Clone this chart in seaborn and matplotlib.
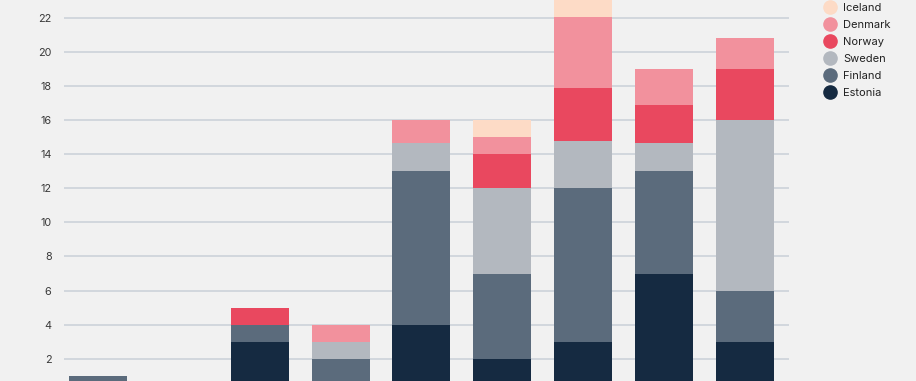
import matplotlib
matplotlib.use("Agg")
import matplotlib.pyplot as plt
from matplotlib.lines import Line2D
import seaborn as sns
import pandas as pd

categories = ["C1", "C2", "C3", "C4", "C5", "C6", "C7", "C8", "C9"]
estonia = [0, 0, 3, 0, 4, 2, 3, 7, 3]
finland = [1, 0, 1, 2, 9, 5, 9, 6, 3]
sweden  = [0, 0, 0, 1, 1.7, 5, 2.8, 1.7, 10]
norway  = [0, 0, 1, 0, 0, 2, 3.1, 2.2, 3]
denmark = [0, 0, 0, 1, 1.3, 1, 4.2, 2.1, 1.85]
iceland = [0, 0, 0, 0, 0, 1, 1.3, 0, 0]

series = {
    "Iceland": iceland,
    "Denmark": denmark,
    "Norway": norway,
    "Sweden": sweden,
    "Finland": finland,
    "Estonia": estonia,
}
colors = {
    "Iceland": "#fddbc6",
    "Denmark": "#f2919d",
    "Norway": "#e9485f",
    "Sweden": "#b3b8bf",
    "Finland": "#5b6b7c",
    "Estonia": "#152a41",
}
order = list(series.keys())

rows = []
for name, vals in series.items():
    for c, v in zip(categories, vals):
        rows.append({"category": c, "country": name, "value": v})
df = pd.DataFrame(rows)
df["category"] = pd.Categorical(df["category"], categories=categories, ordered=True)

sns.set_theme(style="white")
plt.rcParams["font.family"] = ["Inter", "DejaVu Sans"]
bg = "#f1f1f1"

fig = plt.figure(figsize=(9.16, 3.81), dpi=100, facecolor=bg)
ax = fig.add_axes([64 / 916, 0, (789 - 64) / 916, 1])
ax.set_facecolor(bg)

sns.histplot(data=df, x="category", hue="country", weights="value",
             multiple="stack", discrete=True, shrink=0.718,
             hue_order=order, palette=colors, alpha=1, linewidth=0,
             legend=False, ax=ax, zorder=3)

ax.set_ylim(0.68, 23.08)
ax.set_xlim(-0.423, 8.55)
ax.set_yticks(range(2, 23, 2))
ax.yaxis.grid(True, color="#cfd5db", linewidth=1.3, zorder=0)
ax.set_axisbelow(True)
ax.tick_params(axis="y", length=0, pad=9, labelsize=7.8, labelcolor="#3a3a3a")
ax.tick_params(axis="x", length=0, labelbottom=False)
ax.set_xlabel("")
ax.set_ylabel("")
for s in ax.spines.values():
    s.set_visible(False)

handles = [Line2D([0], [0], marker="o", linestyle="", markersize=9.5,
                  markerfacecolor=colors[n], markeredgecolor=colors[n], label=n)
           for n in order]
fig.legend(handles=handles, loc="upper left", bbox_to_anchor=(819 / 916, 1.004),
           frameon=False, fontsize=8, labelcolor="#222222", handletextpad=0.6,
           labelspacing=0.63, borderaxespad=0, handlelength=1.2)

fig.savefig("out.png", dpi=100, facecolor=bg)
